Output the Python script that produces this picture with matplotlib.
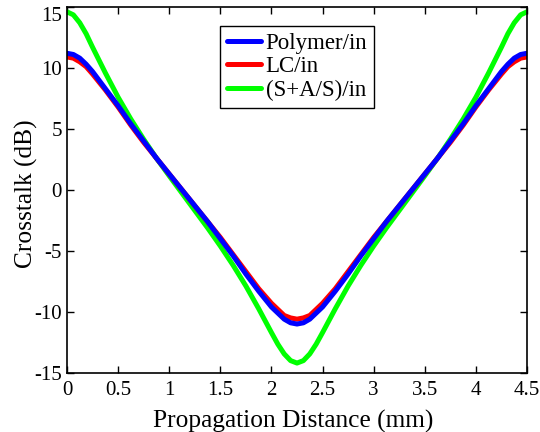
import matplotlib
matplotlib.use("Agg")
import matplotlib.pyplot as plt
from matplotlib.transforms import ScaledTranslation

plt.rcParams['font.family'] = ['Liberation Serif', 'DejaVu Serif']
plt.rcParams['axes.unicode_minus'] = False

# propagation distance (mm)
dist = [0.0, 0.0625, 0.125, 0.1875, 0.25, 0.375, 0.5, 0.625, 0.75, 0.875, 1.0, 1.125,
        1.25, 1.375, 1.5, 1.625, 1.75, 1.875, 2.0, 2.0625, 2.125, 2.1875, 2.25,
        2.3125, 2.375, 2.4375, 2.5, 2.625, 2.75, 2.875, 3.0, 3.125, 3.25, 3.375,
        3.5, 3.625, 3.75, 3.875, 4.0, 4.125, 4.25, 4.3125, 4.375, 4.4375, 4.5]

# crosstalk (dB)
polymer = [11.2, 11.1, 10.8, 10.3, 9.7, 8.3, 6.9, 5.4, 4.0, 2.6, 1.3, 0.0,
           -1.3, -2.6, -4.0, -5.4, -6.9, -8.3, -9.6, -10.1, -10.6, -10.9, -11.0,
           -10.9, -10.6, -10.1, -9.6, -8.3, -6.9, -5.4, -4.0, -2.6, -1.3, 0.0,
           1.3, 2.6, 4.0, 5.4, 6.9, 8.3, 9.7, 10.3, 10.8, 11.1, 11.2]
lc = [10.9, 10.8, 10.5, 10.1, 9.5, 8.2, 6.8, 5.3, 3.9, 2.6, 1.3, 0.0,
      -1.3, -2.6, -3.9, -5.3, -6.7, -8.1, -9.3, -9.8, -10.3, -10.5, -10.6,
      -10.5, -10.3, -9.8, -9.3, -8.1, -6.7, -5.3, -3.9, -2.6, -1.3, 0.0,
      1.3, 2.6, 3.9, 5.3, 6.8, 8.2, 9.5, 10.1, 10.5, 10.8, 10.9]
sas = [14.6, 14.35, 13.7, 12.8, 11.7, 9.6, 7.6, 5.8, 4.15, 2.6, 1.15, -0.27,
       -1.69, -3.11, -4.6, -6.18, -7.88, -9.74, -11.7, -12.65, -13.45, -14.0, -14.2,
       -14.0, -13.45, -12.65, -11.7, -9.74, -7.88, -6.18, -4.6, -3.11, -1.69, -0.27,
       1.15, 2.6, 4.15, 5.8, 7.6, 9.6, 11.7, 12.8, 13.7, 14.35, 14.6]

yticks = [-15, -10, -5, 0, 5, 10, 15]
xticks = [0, 0.5, 1, 1.5, 2, 2.5, 3, 3.5, 4, 4.5]
xticklabels = ['0', '0.5', '1', '1.5', '2', '2.5', '3', '3.5', '4', '4.5']

fig = plt.figure(figsize=(5.4, 4.32), dpi=100)
ax = fig.add_axes([0.124, 0.137, 0.852, 0.847])

style = dict(lw=3.6, solid_joinstyle='round', solid_capstyle='round')
l3, = ax.plot(dist, sas, color='#00ff00', label='(S+A/S)/in', **style)
l2, = ax.plot(dist, lc, color='#ff0000', label='LC/in', **style)
l1, = ax.plot(dist, polymer, color='#0000ff', label='Polymer/in', **style)

ax.set_xlim(0, 4.5)
ax.set_ylim(-15, 15)
ax.set_xticks(xticks)
ax.set_xticklabels(xticklabels)
ax.set_yticks(yticks)
ax.set_yticklabels([str(v) for v in yticks])
ax.tick_params(direction='in', top=True, right=True, length=5, width=1, labelsize=15)
ax.tick_params(axis='x', pad=6)
for s in ax.spines.values():
    s.set_linewidth(1.2)

# top label sits a little lower than its tick, as in the original
top_lab = ax.get_yticklabels()[-1]
top_lab.set_transform(top_lab.get_transform() + ScaledTranslation(0, -5 / 72, fig.dpi_scale_trans))

ax.set_xlabel('Propagation Distance (mm)', fontsize=18.3)
ax.set_ylabel('Crosstalk (dB)', fontsize=18.3)
ax.xaxis.set_label_coords(0.492, -0.1)
ax.yaxis.set_label_coords(-0.062, 0.49)

leg = ax.legend(handles=[l1, l2, l3], loc='upper center', bbox_to_anchor=(0.5, 0.948),
                fontsize=16.5, fancybox=False, edgecolor='black', framealpha=1,
                handlelength=1.5, handletextpad=0.2, labelspacing=0.1, borderpad=0.3,
                borderaxespad=0)
leg.get_frame().set_linewidth(1.0)

fig.savefig('out.png', dpi=100)
